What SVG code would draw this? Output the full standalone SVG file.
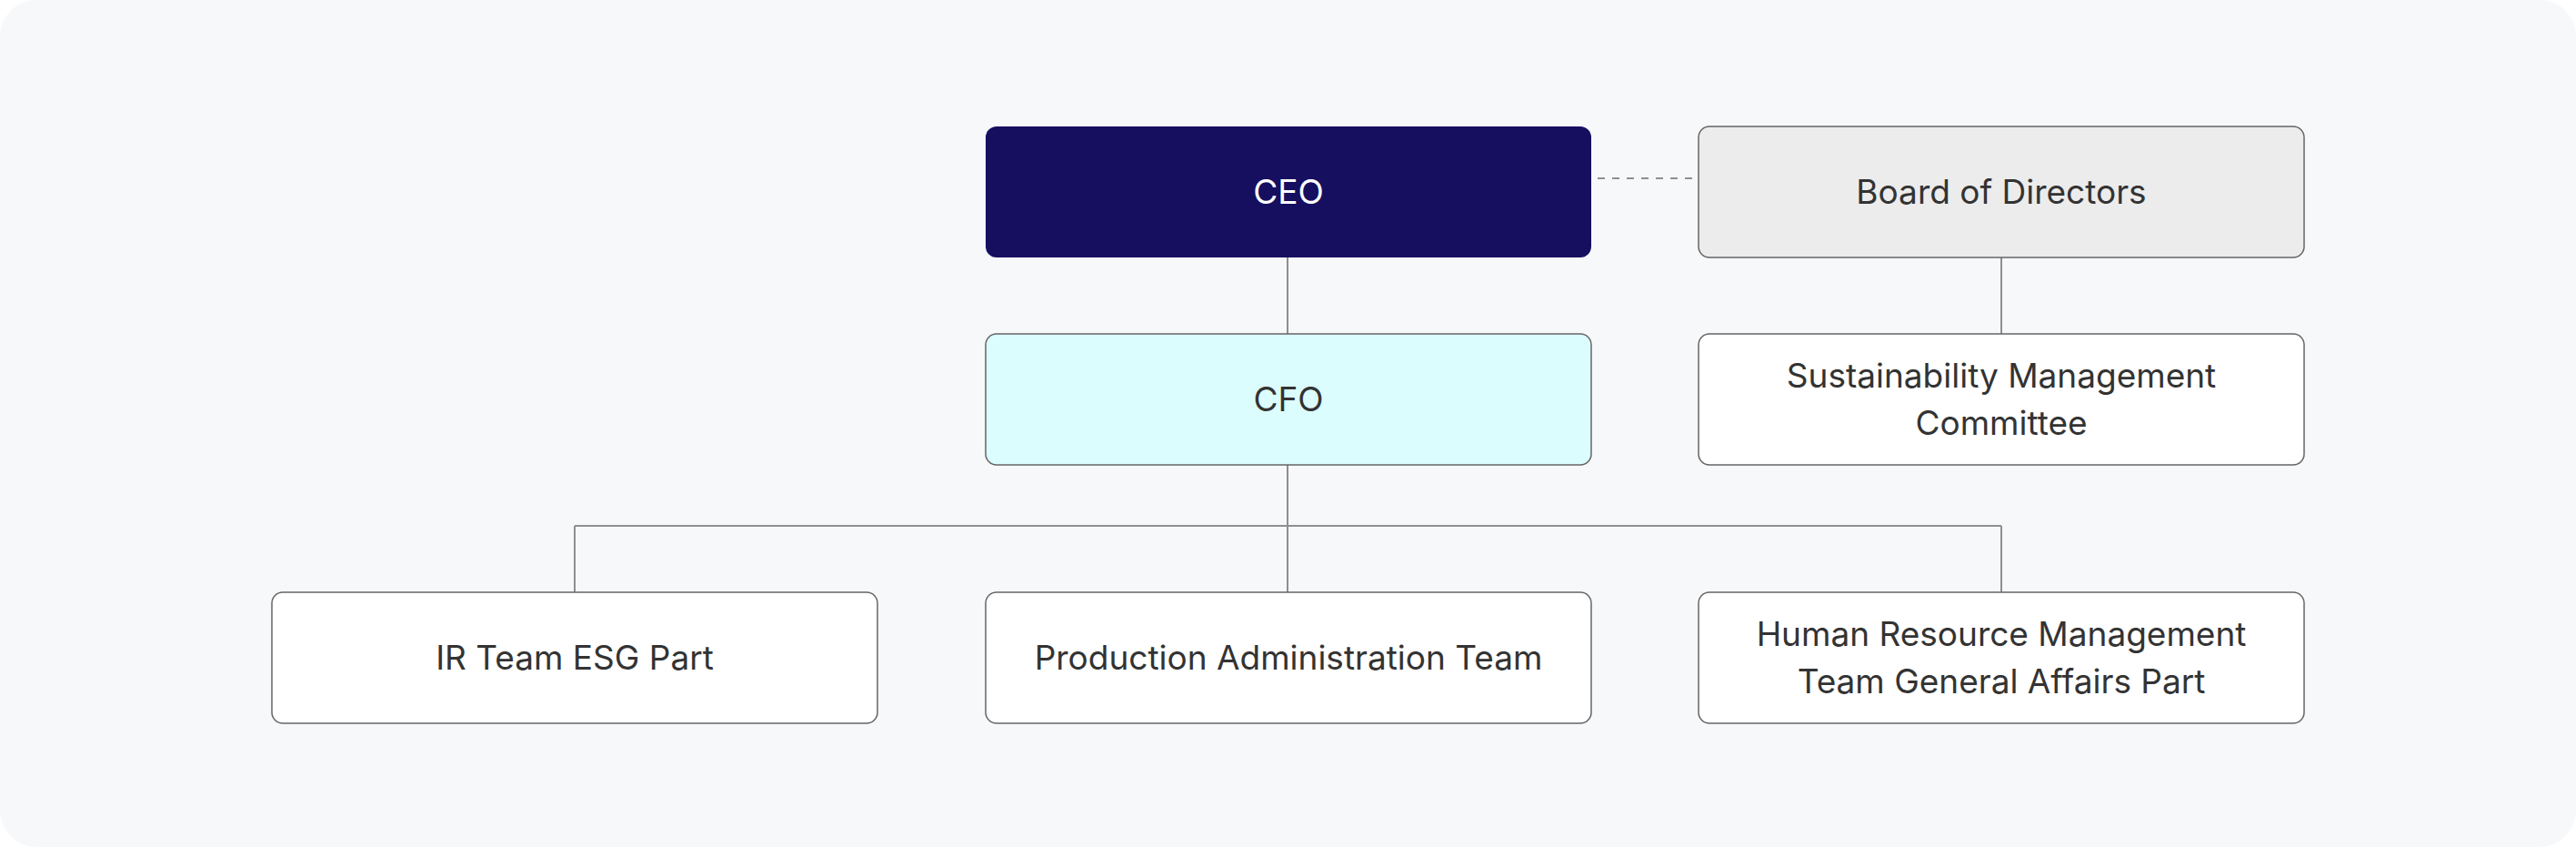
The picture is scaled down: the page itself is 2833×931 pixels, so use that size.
<svg xmlns="http://www.w3.org/2000/svg" width="2833" height="931" viewBox="0 0 2833 931">
<style>
.box{stroke:#666;stroke-width:1.5}
.w{fill:#ffffff}
.t{font-family:Inter,"Noto Sans","Liberation Sans",sans-serif;font-size:37px;fill:#333;text-anchor:middle}
.c{stroke:#8f8f8f;stroke-width:2;fill:none}
</style>
<rect x="0" y="0" width="2833" height="931" fill="#ffffff"/>
<rect x="0" y="0" width="2833" height="931" rx="40" fill="#f7f8fa"/>
<g id="connectors">
<line class="c" x1="1757" y1="196" x2="1862" y2="196" stroke-dasharray="8 8" stroke="#999"/>
<line class="c" x1="1416" y1="283" x2="1416" y2="367"/>
<line class="c" x1="2201" y1="283" x2="2201" y2="367"/>
<line class="c" x1="1416" y1="511" x2="1416" y2="651"/>
<line class="c" x1="632" y1="578" x2="2201" y2="578"/>
<line class="c" x1="632" y1="578" x2="632" y2="651"/>
<line class="c" x1="2201" y1="578" x2="2201" y2="651"/>
</g>
<g id="ceo">
<rect x="1084" y="139" width="666" height="144" rx="12" fill="#160f60"/>
<text class="t" x="1417" y="224" style="fill:#ffffff">CEO</text>
</g>
<g id="board">
<rect class="box" x="1868" y="139" width="666" height="144" rx="12" fill="#ececec"/>
<text class="t" x="2201" y="224">Board of Directors</text>
</g>
<g id="cfo">
<rect class="box" x="1084" y="367" width="666" height="144" rx="12" fill="#dcfdfd"/>
<text class="t" x="1417" y="452">CFO</text>
</g>
<g id="smc">
<rect class="box w" x="1868" y="367" width="666" height="144" rx="12"/>
<text class="t" x="2201" y="426">Sustainability Management</text>
<text class="t" x="2201" y="478">Committee</text>
</g>
<g id="ir">
<rect class="box w" x="299" y="651" width="666" height="144" rx="12"/>
<text class="t" x="632" y="736">IR Team ESG Part</text>
</g>
<g id="prod">
<rect class="box w" x="1084" y="651" width="666" height="144" rx="12"/>
<text class="t" x="1417" y="736">Production Administration Team</text>
</g>
<g id="hr">
<rect class="box w" x="1868" y="651" width="666" height="144" rx="12"/>
<text class="t" x="2201" y="710">Human Resource Management</text>
<text class="t" x="2201" y="762">Team General Affairs Part</text>
</g>
</svg>
